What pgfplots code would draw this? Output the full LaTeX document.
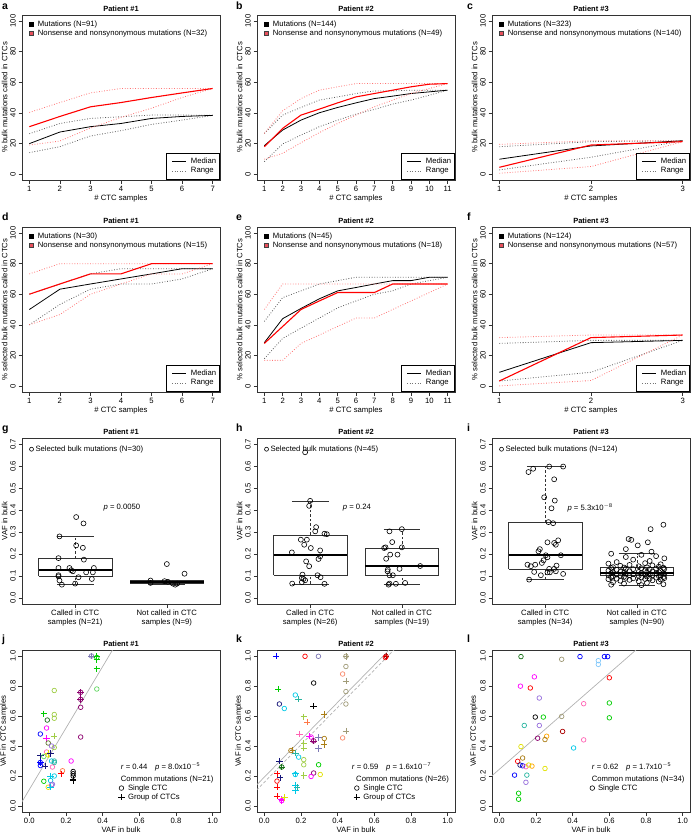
\documentclass[border=0pt]{standalone}
\usepackage{fontspec}
\setmainfont{Liberation Sans}
\usepackage{pgfplots}
\usepackage{pgfplotstable}
\pgfplotsset{compat=1.18}

\definecolor{lred}{RGB}{232,80,92}
\definecolor{cB}{RGB}{0,0,255}
\definecolor{cN}{RGB}{20,20,120}
\definecolor{cG}{RGB}{0,205,0}
\definecolor{cLG}{RGB}{100,215,100}
\definecolor{cDG}{RGB}{20,110,20}
\definecolor{cOl}{RGB}{160,205,70}
\definecolor{cDO}{RGB}{90,110,40}
\definecolor{cM}{RGB}{255,0,255}
\definecolor{cPk}{RGB}{255,100,180}
\definecolor{cP}{RGB}{140,0,110}
\definecolor{cV}{RGB}{150,110,220}
\definecolor{cS}{RGB}{125,120,180}
\definecolor{cO}{RGB}{255,165,0}
\definecolor{cOr}{RGB}{255,120,70}
\definecolor{cC}{RGB}{0,200,230}
\definecolor{cTe}{RGB}{40,180,160}
\definecolor{cY}{RGB}{225,225,0}
\definecolor{cR}{RGB}{255,0,0}
\definecolor{cDR}{RGB}{170,0,0}
\definecolor{cK}{RGB}{0,0,0}
\definecolor{cT}{RGB}{160,155,120}
\definecolor{cBr}{RGB}{170,125,20}
\definecolor{cSa}{RGB}{250,140,110}
\definecolor{cLB}{RGB}{130,200,250}

\newcommand\fsz{\fontsize{7.7}{8.5}\selectfont}

\pgfplotsset{
  Rbase/.style={
    scale only axis, width=198pt,
    axis line style={black!80, line width=0.6pt},
    tick align=outside, tick pos=left,
    major tick length=3.5pt,
    every tick/.style={black!80, line width=0.5pt},
    tick label style={font=\fsz, inner sep=2.6pt},
    yticklabel style={rotate=90, anchor=south},
    every axis title/.style={at={(0.5,1)}, anchor=base, yshift=4pt, inner sep=0pt, font=\bfseries\fontsize{7.5}{8}\selectfont},
    every axis y label/.style={at={(ticklabel cs:0.5)}, rotate=90, anchor=near ticklabel, inner sep=0pt, font=\fsz},
    every axis x label/.style={at={(ticklabel cs:0.5)}, anchor=near ticklabel, inner sep=0.5pt, font=\fsz},
    /pgf/number format/assume math mode=true,
    legend style={font=\fsz},
    legend cell align=left,
  },
  lineP/.style={Rbase, height=165pt, ymin=-4, ymax=104, ytick={0,20,40,60,80,100},
    xlabel={\# CTC samples},
    legend style={draw=none, fill=none, at={(0.033,0.973)}, anchor=north west, inner sep=0pt,
      nodes={inner sep=1pt}, row sep=0.3pt, /tikz/every odd column/.append style={column sep=4pt}},
    legend image code/.code={\draw[##1] plot coordinates {(0pt,0pt)};},
  },
  sqB/.style={only marks, mark=square*, mark size=2.1pt, mark options={draw=black, fill=black}},
  sqR/.style={only marks, mark=square*, mark size=2.1pt, mark options={draw=black!75, fill=lred}},
  medB/.style={black, line width=0.8pt},
  medR/.style={red, line width=1.1pt},
  rngB/.style={black!65, dash pattern=on 0.8pt off 1.8pt, line width=0.8pt},
  rngR/.style={red!55, dash pattern=on 0.8pt off 1.8pt, line width=0.8pt},
  boxP/.style={Rbase, height=166pt, xmin=0.42, xmax=2.58, ymin=-0.028, ymax=0.728,
    xtick={1,2}, ytick={0,0.1,0.2,0.3,0.4,0.5,0.6,0.7}, ylabel={VAF in bulk},
    yticklabel style={/pgf/number format/.cd, fixed, fixed zerofill, precision=1},
    xticklabel style={align=center},
    legend style={draw=none, fill=none, at={(0.037,0.961)}, anchor=north west, inner sep=0pt,
      nodes={inner sep=1pt}, /tikz/every odd column/.append style={column sep=1pt}},
    legend image code/.code={\draw[##1] plot coordinates {(0pt,0pt)};},
  },
  wh/.style={black!80, line width=0.5pt, dash pattern=on 2.5pt off 2pt},
  cap/.style={black!80, line width=0.6pt},
  boxs/.style={black!80, line width=0.6pt},
  medl/.style={black, line width=2.2pt},
  pts/.style={only marks, mark=o, mark size=2.5pt, black, mark options={line width=0.6pt}},
  scP/.style={Rbase, height=162pt, xmin=-0.04, xmax=1.04, ymin=-0.04, ymax=1.04,
    xtick={0,0.2,0.4,0.6,0.8,1}, ytick={0,0.2,0.4,0.6,0.8,1},
    xlabel={VAF in bulk}, ylabel={VAF in CTC samples},
    xticklabel style={/pgf/number format/.cd, fixed, fixed zerofill, precision=1},
    yticklabel style={/pgf/number format/.cd, fixed, fixed zerofill, precision=1},
    legend style={draw=none, fill=none, anchor=north west, inner sep=0pt,
      nodes={inner sep=1pt}, row sep=0.1pt, /tikz/every odd column/.append style={column sep=2.4pt}},
    legend image code/.code={\draw[##1] plot coordinates {(0pt,0pt)};},
  },
  scat/.style={scatter, only marks, scatter src=explicit symbolic,
    scatter/classes={
      Bo={mark=o,draw=cB,mark size=2.3pt}, Bp={mark=+,draw=cB,mark size=3.2pt},
      No={mark=o,draw=cN,mark size=2.3pt}, Np={mark=+,draw=cN,mark size=3.2pt},
      Go={mark=o,draw=cG,mark size=2.3pt}, Gp={mark=+,draw=cG,mark size=3.2pt},
      LGo={mark=o,draw=cLG,mark size=2.3pt}, LGp={mark=+,draw=cLG,mark size=3.2pt},
      DGo={mark=o,draw=cDG,mark size=2.3pt}, DGp={mark=+,draw=cDG,mark size=3.2pt},
      Olo={mark=o,draw=cOl,mark size=2.3pt}, Olp={mark=+,draw=cOl,mark size=3.2pt},
      DOo={mark=o,draw=cDO,mark size=2.3pt}, DOp={mark=+,draw=cDO,mark size=3.2pt},
      Mo={mark=o,draw=cM,mark size=2.3pt}, Mp={mark=+,draw=cM,mark size=3.2pt},
      Pko={mark=o,draw=cPk,mark size=2.3pt}, Pkp={mark=+,draw=cPk,mark size=3.2pt},
      Po={mark=o,draw=cP,mark size=2.3pt}, Pp={mark=+,draw=cP,mark size=3.2pt},
      Vo={mark=o,draw=cV,mark size=2.3pt}, Vp={mark=+,draw=cV,mark size=3.2pt},
      So={mark=o,draw=cS,mark size=2.3pt}, Sp={mark=+,draw=cS,mark size=3.2pt},
      Oo={mark=o,draw=cO,mark size=2.3pt}, Op={mark=+,draw=cO,mark size=3.2pt},
      Oro={mark=o,draw=cOr,mark size=2.3pt}, Orp={mark=+,draw=cOr,mark size=3.2pt},
      Co={mark=o,draw=cC,mark size=2.3pt}, Cp={mark=+,draw=cC,mark size=3.2pt},
      Teo={mark=o,draw=cTe,mark size=2.3pt}, Tep={mark=+,draw=cTe,mark size=3.2pt},
      Yo={mark=o,draw=cY,mark size=2.3pt}, Yp={mark=+,draw=cY,mark size=3.2pt},
      Ro={mark=o,draw=cR,mark size=2.3pt}, Rp={mark=+,draw=cR,mark size=3.2pt},
      DRo={mark=o,draw=cDR,mark size=2.3pt}, DRp={mark=+,draw=cDR,mark size=3.2pt},
      Ko={mark=o,draw=cK,mark size=2.3pt}, Kp={mark=+,draw=cK,mark size=3.2pt},
      To={mark=o,draw=cT,mark size=2.3pt}, Tp={mark=+,draw=cT,mark size=3.2pt},
      Bro={mark=o,draw=cBr,mark size=2.3pt}, Brp={mark=+,draw=cBr,mark size=3.2pt},
      Sao={mark=o,draw=cSa,mark size=2.3pt}, Sap={mark=+,draw=cSa,mark size=3.2pt},
      LBo={mark=o,draw=cLB,mark size=2.3pt}, LBp={mark=+,draw=cLB,mark size=3.2pt}
    },
    mark options={line width=0.7pt}},
}

% ---------- line panel data ----------
\pgfplotstableread{
x bm bu bl rm ru rl
1 19.8 26.3 13.9 30.9 40.2 18.9
2 27.4 33.0 17.8 37.6 46.7 21.5
3 30.9 36.3 24.8 43.9 53.0 30.0
4 33.0 37.4 28.3 46.7 55.9 37.0
5 36.3 38.5 32.4 50.0 55.9 43.0
6 37.6 38.5 35.2 53.0 55.9 50.0
7 38.3 38.3 38.3 55.9 55.9 55.9
}\tabA
\pgfplotstableread{
x bm bu bl rm ru rl
1 18.5 26.5 8.0 17.8 26.5 9.6
2 28.7 38.5 19.6 29.8 41.3 13.5
3 35.2 43.5 25.4 38.5 49.3 20.4
4 40.0 48.3 30.9 42.4 54.8 27.0
5 43.5 50.4 35.2 46.5 57.0 33.0
6 46.5 52.6 39.1 50.4 59.1 38.5
7 49.3 54.3 42.2 52.6 59.1 43.9
8 50.9 54.3 45.7 54.8 59.1 48.3
9 52.6 54.8 48.3 57.0 59.1 52.6
10 53.7 54.8 51.5 58.7 59.1 55.9
11 54.8 54.8 54.8 59.1 59.1 59.1
}\tabB
\pgfplotstableread{
x bm bu bl rm ru rl
1 9.6 17.8 2.6 4.3 19.3 0.4
2 18.3 21.1 10.9 18.9 21.7 4.8
3 21.7 21.7 21.7 21.1 21.7 21.1
}\tabC
\pgfplotstableread{
x bm bu bl rm ru rl
1 50.0 60.0 40.0 60.0 73.3 40.0
2 63.3 66.7 53.3 66.7 80.0 46.7
3 66.7 73.3 63.3 73.3 80.0 60.0
4 70.0 76.7 66.7 73.3 80.0 66.7
5 73.3 76.7 66.7 80.0 80.0 73.3
6 76.7 76.7 70.0 80.0 80.0 73.3
7 76.7 76.7 76.7 80.0 80.0 80.0
}\tabD
\pgfplotstableread{
x bm bu bl rm ru rl
1 28.3 42.2 17.8 27.8 50.0 16.7
2 44.0 57.8 31.1 38.9 66.7 16.7
3 50.7 62.2 37.8 50.0 66.7 27.8
4 57.0 66.7 44.4 55.6 66.7 33.3
5 62.2 68.9 51.1 61.1 66.7 38.9
6 64.4 71.1 55.6 61.1 66.7 44.4
7 66.7 71.1 60.0 61.1 66.7 44.4
8 68.9 71.1 62.2 66.7 66.7 50.0
9 68.9 71.1 66.7 66.7 66.7 55.6
10 71.1 71.1 68.9 66.7 66.7 61.1
11 71.1 71.1 71.1 66.7 66.7 66.7
}\tabE
\pgfplotstableread{
x bm bu bl rm ru rl
1 8.9 27.8 3.2 3.2 31.6 0.0
2 28.3 29.8 8.9 31.6 33.3 3.5
3 29.8 29.8 29.8 33.3 33.3 33.3
}\tabF

\newcommand\sixlines[1]{%
\addplot[rngB, forget plot] table[x=x,y=bu]{#1};
\addplot[rngB, forget plot] table[x=x,y=bl]{#1};
\addplot[medB, forget plot] table[x=x,y=bm]{#1};
\addplot[rngR, forget plot] table[x=x,y=ru]{#1};
\addplot[rngR, forget plot] table[x=x,y=rl]{#1};
\addplot[medR, forget plot] table[x=x,y=rm]{#1};
}

\newcommand\MRlegend[2]{%
\begin{axis}[at={(#1pt,-#2pt)}, anchor=north west, scale only axis, width=198pt, height=165pt, hide axis,
  xmin=0, xmax=1, ymin=0, ymax=1,
  legend style={at={(1,0)}, anchor=south east, draw=black, fill=white, font=\fsz, line width=0.6pt,
     inner xsep=2.5pt, inner ysep=4.3pt, row sep=0.3pt, nodes={inner sep=1pt},
     /tikz/every odd column/.append style={column sep=3.5pt}},
  legend cell align=left,
  legend image code/.code={\path (0pt,0pt); \draw[##1] (3pt,0pt) -- (17pt,0pt);}]
\addlegendimage{black, line width=0.6pt}\addlegendentry{Median}
\addlegendimage{black!55, dash pattern=on 0.8pt off 1.8pt, line width=0.7pt}\addlegendentry{Range}
\end{axis}}

\begin{document}
\begin{tikzpicture}
\useasboundingbox (0pt,0pt) rectangle (691pt,-833pt);

% ================= Row 1 =================
\begin{axis}[lineP, at={(22pt,-15pt)}, anchor=north west, xmin=0.76, xmax=7.24, xtick={1,2,3,4,5,6,7},
  title={Patient \#1}, ylabel={\% bulk mutations called in CTCs}]
\addlegendimage{sqB}\addlegendentry{Mutations (N=91)}
\addlegendimage{sqR}\addlegendentry{Nonsense and nonsynonymous mutations (N=32)}
\sixlines{\tabA}
\end{axis}
\MRlegend{22}{15}

\begin{axis}[lineP, at={(257pt,-15pt)}, anchor=north west, xmin=0.6, xmax=11.4, xtick={1,2,3,4,5,6,7,8,9,10,11},
  title={Patient \#2}, ylabel={\% bulk mutations called in CTCs}]
\addlegendimage{sqB}\addlegendentry{Mutations (N=144)}
\addlegendimage{sqR}\addlegendentry{Nonsense and nonsynonymous mutations (N=49)}
\sixlines{\tabB}
\end{axis}
\MRlegend{257}{15}

\begin{axis}[lineP, at={(492pt,-15pt)}, anchor=north west, xmin=0.92, xmax=3.08, xtick={1,2,3},
  title={Patient \#3}, ylabel={\% bulk mutations called in CTCs}]
\addlegendimage{sqB}\addlegendentry{Mutations (N=323)}
\addlegendimage{sqR}\addlegendentry{Nonsense and nonsynonymous mutations (N=140)}
\sixlines{\tabC}
\end{axis}
\MRlegend{492}{15}

% ================= Row 2 =================
\begin{axis}[lineP, at={(22pt,-227pt)}, anchor=north west, xmin=0.76, xmax=7.24, xtick={1,2,3,4,5,6,7},
  title={Patient \#1}, ylabel={\% selected bulk mutations called in CTCs}]
\addlegendimage{sqB}\addlegendentry{Mutations (N=30)}
\addlegendimage{sqR}\addlegendentry{Nonsense and nonsynonymous mutations (N=15)}
\sixlines{\tabD}
\end{axis}
\MRlegend{22}{227}

\begin{axis}[lineP, at={(257pt,-227pt)}, anchor=north west, xmin=0.6, xmax=11.4, xtick={1,2,3,4,5,6,7,8,9,10,11},
  title={Patient \#2}, ylabel={\% selected bulk mutations called in CTCs}]
\addlegendimage{sqB}\addlegendentry{Mutations (N=45)}
\addlegendimage{sqR}\addlegendentry{Nonsense and nonsynonymous mutations (N=18)}
\sixlines{\tabE}
\end{axis}
\MRlegend{257}{227}

\begin{axis}[lineP, at={(492pt,-227pt)}, anchor=north west, xmin=0.92, xmax=3.08, xtick={1,2,3},
  title={Patient \#3}, ylabel={\% selected bulk mutations called in CTCs}]
\addlegendimage{sqB}\addlegendentry{Mutations (N=124)}
\addlegendimage{sqR}\addlegendentry{Nonsense and nonsynonymous mutations (N=57)}
\sixlines{\tabF}
\end{axis}
\MRlegend{492}{227}

% ================= Row 3 =================
\begin{axis}[boxP, at={(22pt,-438pt)}, anchor=north west, title={Patient \#1},
  xticklabels={{Called in CTC\\samples (N=21)},{Not called in CTC\\samples (N=9)}}]
\addlegendimage{only marks, mark=o, black, mark size=2pt, mark options={line width=0.6pt}}\addlegendentry{Selected bulk mutations (N=30)}
\addplot[wh, forget plot] coordinates {(1,0.060) (1,0.098)};
\addplot[wh, forget plot] coordinates {(1,0.181) (1,0.280)};
\addplot[cap, forget plot] coordinates {(0.8,0.060) (1.2,0.060)};
\addplot[cap, forget plot] coordinates {(0.8,0.280) (1.2,0.280)};
\addplot[boxs, forget plot] coordinates {(0.6,0.098) (1.4,0.098) (1.4,0.181) (0.6,0.181) (0.6,0.098)};
\addplot[medl, forget plot] coordinates {(0.6,0.126) (1.4,0.126)};
\addplot[cap, forget plot] coordinates {(1.8,0.060) (2.2,0.060)};
\addplot[cap, forget plot] coordinates {(1.8,0.079) (2.2,0.079)};
\addplot[boxs, forget plot] coordinates {(1.6,0.065) (2.4,0.065) (2.4,0.079) (1.6,0.079) (1.6,0.065)};
\addplot[medl, forget plot] coordinates {(1.6,0.073) (2.4,0.073)};
\addplot[pts, forget plot] table {
x y
1.011 0.368
1.091 0.339
0.829 0.280
1.011 0.239
1.084 0.228
1.095 0.174
0.818 0.181
0.818 0.136
0.938 0.136
0.975 0.121
0.956 0.126
1.036 0.094
1.120 0.116
1.193 0.116
1.204 0.136
1.182 0.086
0.818 0.103
0.829 0.079
0.855 0.060
1.000 0.065
0.818 0.098
2.000 0.154
2.193 0.110
1.822 0.079
1.822 0.068
1.975 0.076
2.011 0.073
2.065 0.065
2.091 0.060
2.113 0.065
};
\node[font=\fsz] at (axis cs:1.51,0.41) {\textit{p} = 0.0050};
\end{axis}

\begin{axis}[boxP, at={(257pt,-438pt)}, anchor=north west, title={Patient \#2},
  xticklabels={{Called in CTC\\samples (N=26)},{Not called in CTC\\samples (N=19)}}]
\addlegendimage{only marks, mark=o, black, mark size=2pt, mark options={line width=0.6pt}}\addlegendentry{Selected bulk mutations (N=45)}
\addplot[wh, forget plot] coordinates {(1,0.064) (1,0.103)};
\addplot[wh, forget plot] coordinates {(1,0.287) (1,0.442)};
\addplot[cap, forget plot] coordinates {(0.8,0.064) (1.2,0.064)};
\addplot[cap, forget plot] coordinates {(0.8,0.442) (1.2,0.442)};
\addplot[boxs, forget plot] coordinates {(0.6,0.103) (1.4,0.103) (1.4,0.287) (0.6,0.287) (0.6,0.103)};
\addplot[medl, forget plot] coordinates {(0.6,0.197) (1.4,0.197)};
\addplot[wh, forget plot] coordinates {(2,0.060) (2,0.103)};
\addplot[wh, forget plot] coordinates {(2,0.227) (2,0.313)};
\addplot[cap, forget plot] coordinates {(1.8,0.060) (2.2,0.060)};
\addplot[cap, forget plot] coordinates {(1.8,0.313) (2.2,0.313)};
\addplot[boxs, forget plot] coordinates {(1.6,0.103) (2.4,0.103) (2.4,0.227) (1.6,0.227) (1.6,0.103)};
\addplot[medl, forget plot] coordinates {(1.6,0.145) (2.4,0.145)};
\addplot[pts, forget plot] table {
x y
0.945 0.663
1.000 0.442
0.989 0.419
1.065 0.322
1.055 0.303
1.156 0.292
1.182 0.290
0.898 0.265
0.964 0.265
0.935 0.242
1.007 0.227
1.109 0.216
0.800 0.207
1.109 0.189
1.091 0.177
0.956 0.166
0.989 0.144
0.916 0.106
1.080 0.103
1.113 0.094
0.909 0.091
0.945 0.080
0.909 0.071
0.804 0.065
1.156 0.064
0.927 0.086
1.865 0.303
2.000 0.313
1.895 0.254
1.807 0.227
1.822 0.230
2.000 0.230
1.873 0.197
1.953 0.197
1.829 0.178
1.847 0.129
1.844 0.121
1.975 0.132
2.200 0.145
1.865 0.103
1.902 0.103
1.865 0.065
1.935 0.064
2.036 0.068
1.855 0.060
};
\node[font=\fsz] at (axis cs:1.51,0.41) {\textit{p} = 0.24};
\end{axis}

\begin{axis}[boxP, at={(492pt,-438pt)}, anchor=north west, title={Patient \#3},
  xticklabels={{Called in CTC\\samples (N=34)},{Not called in CTC\\samples (N=90)}}]
\addlegendimage{only marks, mark=o, black, mark size=2pt, mark options={line width=0.6pt}}\addlegendentry{Selected bulk mutations (N=124)}
\addplot[wh, forget plot] coordinates {(1,0.083) (1,0.132)};
\addplot[wh, forget plot] coordinates {(1,0.345) (1,0.598)};
\addplot[cap, forget plot] coordinates {(0.8,0.083) (1.2,0.083)};
\addplot[cap, forget plot] coordinates {(0.8,0.598) (1.2,0.598)};
\addplot[boxs, forget plot] coordinates {(0.6,0.132) (1.4,0.132) (1.4,0.345) (0.6,0.345) (0.6,0.132)};
\addplot[medl, forget plot] coordinates {(0.6,0.197) (1.4,0.197)};
\addplot[wh, forget plot] coordinates {(2,0.058) (2,0.103)};
\addplot[wh, forget plot] coordinates {(2,0.139) (2,0.201)};
\addplot[cap, forget plot] coordinates {(1.8,0.058) (2.2,0.058)};
\addplot[cap, forget plot] coordinates {(1.8,0.201) (2.2,0.201)};
\addplot[boxs, forget plot] coordinates {(1.6,0.103) (2.4,0.103) (2.4,0.139) (1.6,0.139) (1.6,0.103)};
\addplot[medl, forget plot] coordinates {(1.6,0.112) (2.4,0.112)};
\addplot[pts, forget plot] table {
x y
0.818 0.573
0.869 0.588
1.044 0.598
1.196 0.598
1.098 0.540
0.989 0.458
1.105 0.443
1.069 0.408
1.036 0.345
1.087 0.340
1.142 0.262
1.025 0.253
1.098 0.250
1.116 0.242
0.942 0.222
0.927 0.212
1.007 0.194
1.171 0.194
1.025 0.185
0.982 0.171
0.964 0.159
1.124 0.147
0.807 0.151
0.891 0.151
0.844 0.144
1.044 0.132
1.025 0.116
1.098 0.132
1.116 0.121
0.880 0.118
0.953 0.103
1.196 0.109
0.825 0.083
1.051 0.116
2.29 0.333
2.15 0.313
1.91 0.268
1.94 0.264
2.12 0.253
2.01 0.239
2.16 0.210
1.88 0.222
1.72 0.201
2.05 0.196
2.21 0.190
1.88 0.186
2.30 0.180
1.96 0.174
2.14 0.168
1.78 0.163
2.09 0.158
1.69 0.156
2.26 0.153
1.92 0.150
2.17 0.148
1.82 0.146
2.02 0.144
2.24 0.142
1.74 0.140
2.11 0.139
1.86 0.138
2.29 0.137
1.72 0.136
2.05 0.135
2.21 0.134
1.88 0.133
2.30 0.132
1.96 0.131
2.14 0.130
1.78 0.128
2.09 0.126
1.69 0.124
2.26 0.122
1.92 0.121
2.17 0.120
1.82 0.119
2.02 0.118
2.24 0.117
1.74 0.116
2.11 0.115
1.86 0.114
2.29 0.113
1.72 0.112
2.05 0.112
2.21 0.111
1.88 0.110
2.30 0.109
1.96 0.108
2.14 0.107
1.78 0.106
2.09 0.105
1.69 0.104
2.26 0.103
1.92 0.103
2.17 0.102
1.82 0.101
2.02 0.100
2.24 0.099
1.74 0.098
2.11 0.097
1.86 0.096
2.29 0.095
1.72 0.094
2.05 0.093
2.21 0.092
1.88 0.091
2.30 0.090
1.96 0.089
2.14 0.088
1.78 0.087
2.09 0.086
1.69 0.085
2.26 0.084
1.92 0.082
2.17 0.080
1.82 0.078
2.02 0.076
2.24 0.074
1.74 0.071
2.11 0.068
1.86 0.065
2.29 0.062
1.72 0.060
2.05 0.058
};
\node[font=\fsz] at (axis cs:1.49,0.41) {\textit{p} = 5.3x10\textsuperscript{$-$8}};
\end{axis}

% ================= Row 4 =================
\begin{axis}[scP, at={(22pt,-650pt)}, anchor=north west, title={Patient \#1},
  legend style={at={(0.485,0.177)}}]
\addlegendimage{only marks, mark=o, black, mark size=2.3pt, mark options={line width=0.6pt}}\addlegendentry{Single CTC}
\addlegendimage{only marks, mark=+, black, mark size=3.2pt, mark options={line width=0.7pt}}\addlegendentry{Group of CTCs}
\addplot[black!30, line width=0.7pt, forget plot] coordinates {(-0.1,-0.095) (1.1,2.365)};
\addplot[scat, forget plot] table[meta=c] {
x y c
0.339 1.000 So
0.339 1.000 Sp
0.368 1.000 Gp
0.368 0.990 Go
0.368 0.975 Gp
0.368 0.915 Gp
0.368 0.780 LGo
0.280 0.758 Po
0.280 0.758 Pp
0.280 0.711 Po
0.280 0.711 Pp
0.280 0.658 Po
0.280 0.460 Po
0.136 0.770 Olo
0.136 0.610 Olo
0.136 0.585 Olo
0.136 0.465 Olp
0.136 0.390 Olo
0.098 0.573 DGo
0.079 0.615 Gp
0.094 0.520 Mo
0.094 0.450 Mp
0.060 0.480 Bo
0.103 0.420 DOo
0.094 0.360 Pko
0.121 0.400 Vo
0.060 0.335 Np
0.060 0.290 Bo
0.060 0.290 Bp
0.060 0.270 Bo
0.086 0.265 Np
0.079 0.330 LGo
0.103 0.350 Yp
0.103 0.340 Yo
0.116 0.350 Np
0.121 0.300 Co
0.136 0.290 Teo
0.136 0.300 Teo
0.126 0.260 Pko
0.228 0.300 Mo
0.181 0.235 Oro
0.174 0.215 Rp
0.239 0.230 Ko
0.239 0.215 Ko
0.239 0.200 Ko
0.239 0.180 Kp
0.239 0.170 Kp
0.116 0.200 Cp
0.116 0.170 Co
0.136 0.200 Co
0.079 0.165 Go
0.103 0.125 Yo
0.121 0.140 Vo
0.126 0.145 Vo
0.116 0.125 Cp
};
\node[anchor=west, font=\fsz, inner sep=0pt] at (rel axis cs:0.498,0.28) {\textit{r} = 0.44\quad \textit{p} = 8.0x10\textsuperscript{$-$5}};
\node[anchor=west, font=\fsz, inner sep=0pt] at (rel axis cs:0.498,0.202) {Common mutations (N=21)};
\end{axis}

\begin{axis}[scP, at={(257pt,-650pt)}, anchor=north west, title={Patient \#2},
  legend style={at={(0.487,0.177)}}]
\addlegendimage{only marks, mark=o, black, mark size=2.3pt, mark options={line width=0.6pt}}\addlegendentry{Single CTC}
\addlegendimage{only marks, mark=+, black, mark size=3.2pt, mark options={line width=0.7pt}}\addlegendentry{Group of CTCs}
\addplot[black!30, line width=0.7pt, forget plot] coordinates {(-0.1,0.068) (1.1,1.564)};
\addplot[black!30, line width=0.7pt, dash pattern=on 3pt off 2pt, forget plot] coordinates {(-0.1,0.034) (1.1,1.531)};
\addplot[scat, forget plot] table[meta=c] {
x y c
0.064 1.000 Bp
0.222 0.998 Ro
0.295 0.998 So
0.445 0.998 To
0.445 0.998 Tp
0.664 0.998 DRo
0.664 0.998 DRp
0.660 0.990 Ro
0.445 0.930 To
0.427 0.880 Sao
0.269 0.820 Ko
0.445 0.834 Tp
0.445 0.763 To
0.445 0.680 To
0.076 0.780 Gp
0.169 0.740 Co
0.187 0.714 Tep
0.082 0.680 No
0.109 0.650 Co
0.269 0.667 Kp
0.215 0.595 Olp
0.233 0.560 Orp
0.327 0.610 Brp
0.445 0.500 Tp
0.191 0.479 Pkp
0.245 0.465 Mp
0.255 0.460 Mo
0.269 0.434 Po
0.269 0.434 Pp
0.295 0.456 Sp
0.295 0.383 Sp
0.327 0.450 Bro
0.327 0.410 Brp
0.427 0.454 Sao
0.215 0.420 Olp
0.215 0.387 Olp
0.145 0.370 Bro
0.155 0.370 Brp
0.169 0.353 Tep
0.187 0.326 Co
0.215 0.309 Olo
0.215 0.275 Olo
0.296 0.275 Go
0.082 0.300 Np
0.095 0.260 DGp
0.095 0.260 DGo
0.269 0.220 Po
0.255 0.197 Mo
0.305 0.210 Yo
0.215 0.204 Olp
0.169 0.215 Cp
0.169 0.210 Co
0.069 0.215 Rp
0.087 0.188 Np
0.069 0.166 Ro
0.069 0.125 Rp
0.169 0.137 Cp
0.178 0.125 Tep
0.169 0.103 Cp
0.069 0.065 Rp
0.091 0.047 Mp
0.095 0.036 Mo
0.095 0.036 Mp
0.109 0.058 Yp
};
\node[anchor=west, font=\fsz, inner sep=0pt] at (rel axis cs:0.478,0.28) {\textit{r} = 0.59\quad \textit{p} = 1.6x10\textsuperscript{$-$7}};
\node[anchor=west, font=\fsz, inner sep=0pt] at (rel axis cs:0.5,0.202) {Common mutations (N=26)};
\end{axis}

\begin{axis}[scP, at={(492pt,-650pt)}, anchor=north west, title={Patient \#3},
  legend style={at={(0.494,0.177)}}]
\addlegendimage{only marks, mark=o, black, mark size=2.3pt, mark options={line width=0.6pt}}\addlegendentry{Single CTC}
\addplot[black!30, line width=0.7pt, forget plot] coordinates {(-0.1,0.138) (1.1,1.419)};
\addplot[scat, forget plot] table[meta=c] {
x y c
0.118 0.996 DGo
0.340 0.978 To
0.440 0.996 Bo
0.573 0.996 Bo
0.591 0.996 Bo
0.540 0.969 LBo
0.540 0.944 LBo
0.191 0.861 Mo
0.115 0.799 Mo
0.169 0.787 Ro
0.600 0.855 Ro
0.218 0.720 Vo
0.460 0.682 Pko
0.600 0.687 Go
0.600 0.588 Go
0.196 0.593 Ko
0.240 0.593 Go
0.340 0.597 To
0.136 0.537 Teo
0.218 0.537 Vo
0.345 0.497 DRo
0.258 0.465 Oo
0.209 0.452 Po
0.249 0.443 Bro
0.460 0.441 Pko
0.118 0.396 Yo
0.405 0.387 Co
0.127 0.320 Bro
0.100 0.298 Ro
0.113 0.273 No
0.127 0.268 Bo
0.145 0.262 Pko
0.160 0.273 Yo
0.178 0.266 Oo
0.249 0.250 Yo
0.083 0.206 Bo
0.150 0.206 Teo
0.145 0.158 Vo
0.105 0.085 Go
0.105 0.045 Go
};
\node[anchor=west, font=\fsz, inner sep=0pt] at (rel axis cs:0.503,0.28) {\textit{r} = 0.62\quad \textit{p} = 1.7x10\textsuperscript{$-$5}};
\node[anchor=west, font=\fsz, inner sep=0pt] at (rel axis cs:0.503,0.202) {Common mutations (N=34)};
\end{axis}

% panel letters
\foreach \L/\X/\Y in {a/2/9.5, b/236/9.5, c/467/9.5, d/2/220.5, e/236/220.5, f/467/220.5,
  g/2/431, h/236/431, i/467/431, j/2/642, k/236/642, l/467/642}{
  \node[anchor=base west, inner sep=0pt, font=\bfseries\fontsize{10.5}{12}\selectfont] at (\X pt,-\Y pt) {\L};
}
\end{tikzpicture}
\end{document}
